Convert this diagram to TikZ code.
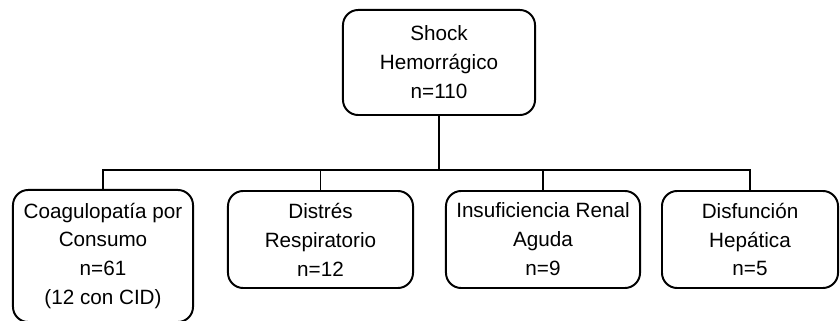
\documentclass[tikz,border=0pt]{standalone}
\usepackage{fontspec}
\setmainfont{Liberation Sans}
\usetikzlibrary{positioning}

\begin{document}
\begin{tikzpicture}[
    x=0.025cm, y=-0.025cm,
    box/.style={draw, line width=1.4pt, rounded corners=0.38cm, align=center, inner sep=0pt,
                minimum height=2.425cm, font=\fontsize{14.7}{20.6}\selectfont},
    conn/.style={line width=1.2pt}
]
\useasboundingbox (0,0) rectangle (840,321);

% Root
\node[box, minimum width=4.8cm, minimum height=2.625cm] (shock) at (439,62.5) {Shock\\Hemorrágico\\n=110};
\coordinate (bus) at (439,170);

% Complications
\node[box, minimum width=4.5cm, minimum height=3.3cm] (coag) at (103,256) {Coagulopatía por\\Consumo\\n=61\\(12 con CID)};
\node[box, minimum width=4.625cm] (distres) at (320.5,239.5) {Distrés\\Respiratorio\\n=12};
\node[box, minimum width=4.85cm] (renal) at (543,239.5) {Insuficiencia Renal\\Aguda\\n=9};
\node[box, minimum width=4.4cm] (hepat) at (750,239.5) {Disfunción\\Hepática\\n=5};

% Connectors
\draw[conn] (shock) -- (bus);
\draw[conn] (bus) -| (coag.north);
\draw[conn] (bus) -| (distres.north);
\draw[conn] (bus) -| (renal.north);
\draw[conn] (bus) -| (hepat.north);
\end{tikzpicture}
\end{document}
